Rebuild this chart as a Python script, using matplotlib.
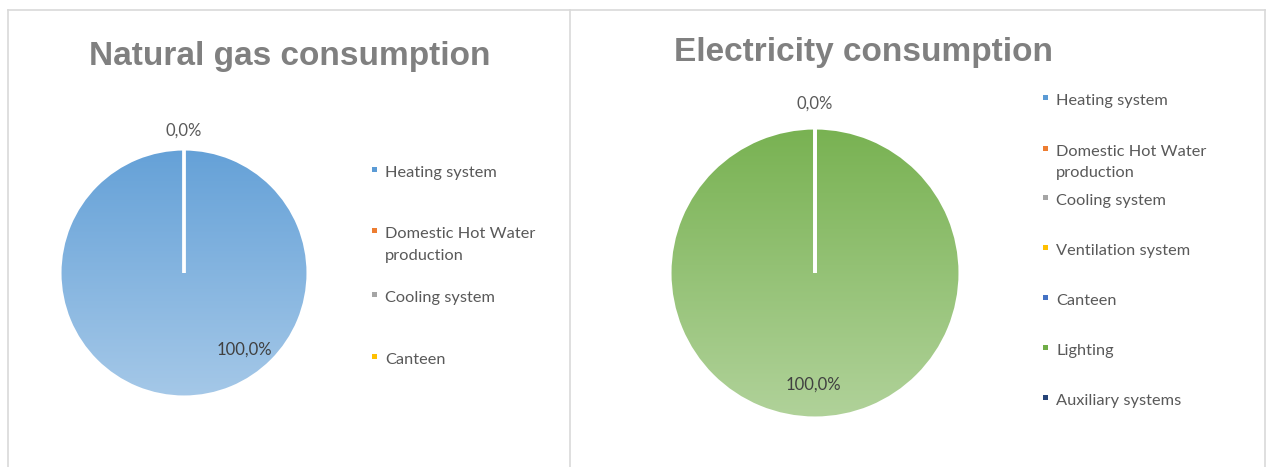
import numpy as np
import matplotlib
matplotlib.use("Agg")
import matplotlib.pyplot as plt
from matplotlib.colors import LinearSegmentedColormap, to_rgb
from matplotlib.lines import Line2D
from matplotlib.patches import Rectangle

W, H = 1268, 467

# ---- data -------------------------------------------------------------
gas_title = "Natural gas consumption"
gas_categories = ["Heating system", "Domestic Hot Water\nproduction",
                  "Cooling system", "Canteen"]
gas_values = [100.0, 0.0, 0.0, 0.0]
gas_colors = ["#5B9BD5", "#ED7D31", "#A5A5A5", "#FFC000"]

elec_title = "Electricity consumption"
elec_categories = ["Heating system", "Domestic Hot Water\nproduction",
                   "Cooling system", "Ventilation system", "Canteen",
                   "Lighting", "Auxiliary systems"]
elec_values = [0.0, 0.0, 0.0, 0.0, 0.0, 100.0, 0.0]
elec_colors = ["#5B9BD5", "#ED7D31", "#A5A5A5", "#FFC000", "#4472C4",
               "#70AD47", "#264478"]

# ---- layout (pixels) --------------------------------------------------
panels = [
    dict(title=gas_title, cats=gas_categories, vals=gas_values,
         cols=gas_colors, title_xy=(290, 57), center=(184, 273), radius=124,
         big_label=(0.49, -0.62), zero_label=(0.0, 1.145),
         legend_x=372, legend_y=[171, 232, 296, 358], line_step=22),
    dict(title=elec_title, cats=elec_categories, vals=elec_values,
         cols=elec_colors, title_xy=(863, 52), center=(815, 273), radius=145,
         big_label=(-0.01, -0.77), zero_label=(0.0, 1.17),
         legend_x=1043, legend_y=[99, 150, 199, 249, 299, 349, 399],
         line_step=21),
]

TEXT_FONT = ["Lato", "DejaVu Sans"]
TITLE_FONT = ["Liberation Sans", "DejaVu Sans"]


def fx(px):
    return px / W


def fy(py):
    return 1 - py / H


def tint(color, amount):
    c = np.array(to_rgb(color))
    return tuple(c + (1 - c) * amount)


fig = plt.figure(figsize=(W / 100, H / 100), dpi=100)
fig.patch.set_facecolor("white")

# outer frame and the divider between the two charts
border = "#D9D9D9"
for xs, ys in [((8, 8), (10, H)), ((1265, 1265), (10, H)),
               ((8, 1265), (10, 10)), ((570, 570), (10, H))]:
    fig.add_artist(Line2D([fx(x) for x in xs], [fy(y) for y in ys],
                          transform=fig.transFigure, color=border, lw=1.2))

for p in panels:
    cx, cy = p["center"]
    r = p["radius"]
    ax = fig.add_axes([fx(cx - r), fy(cy + r), 2 * r / W, 2 * r / H])
    ax.set_xlim(-1, 1)
    ax.set_ylim(-1, 1)
    ax.axis("off")

    wedges, _ = ax.pie(p["vals"], colors=p["cols"], radius=1, startangle=90,
                       counterclock=False,
                       wedgeprops=dict(edgecolor="white", linewidth=2.2))

    # vertical gradient fill for the visible slices
    for w, v, col in zip(wedges, p["vals"], p["cols"]):
        if v <= 0:
            continue
        w.set_facecolor("none")
        cmap = LinearSegmentedColormap.from_list(
            "grad", [tint(col, 0.06), tint(col, 0.45)])
        grad = np.linspace(0, 1, 256).reshape(-1, 1)
        im = ax.imshow(grad, cmap=cmap, extent=(-1, 1, -1, 1),
                       origin="upper", aspect="auto", zorder=0.5)
        im.set_clip_path(w)
    ax.set_xlim(-1, 1)
    ax.set_ylim(-1, 1)

    # data labels
    total = sum(p["vals"])
    drawn = set()
    for v in p["vals"]:
        pct = v / total * 100
        txt = f"{pct:.1f}".replace(".", ",") + "%"
        if v > 0:
            pos = p["big_label"]
            color = "#404040"
        else:
            pos = p["zero_label"]
            color = "#595959"
        if (txt, pos) in drawn:
            continue
        drawn.add((txt, pos))
        ax.text(pos[0], pos[1], txt, ha="center", va="center",
                fontsize=12, color=color, family=TEXT_FONT, clip_on=False)

    # title
    tx, ty = p["title_xy"]
    fig.text(fx(tx), fy(ty), p["title"], ha="center", va="center",
             fontsize=24, fontweight="bold", color="#808080",
             family=TITLE_FONT)

    # legend
    lx = p["legend_x"]
    for cat, col, ly in zip(p["cats"], p["cols"], p["legend_y"]):
        fig.add_artist(Rectangle((fx(lx), fy(ly + 1)), 5 / W, 5 / H,
                                 transform=fig.transFigure, facecolor=col,
                                 edgecolor="none"))
        for i, line in enumerate(cat.split("\n")):
            fig.text(fx(lx + 13), fy(ly + 2 + i * p["line_step"]), line,
                     ha="left", va="center", fontsize=11.8, color="#595959",
                     family=TEXT_FONT)

fig.savefig("out.png", dpi=100, facecolor="white")
